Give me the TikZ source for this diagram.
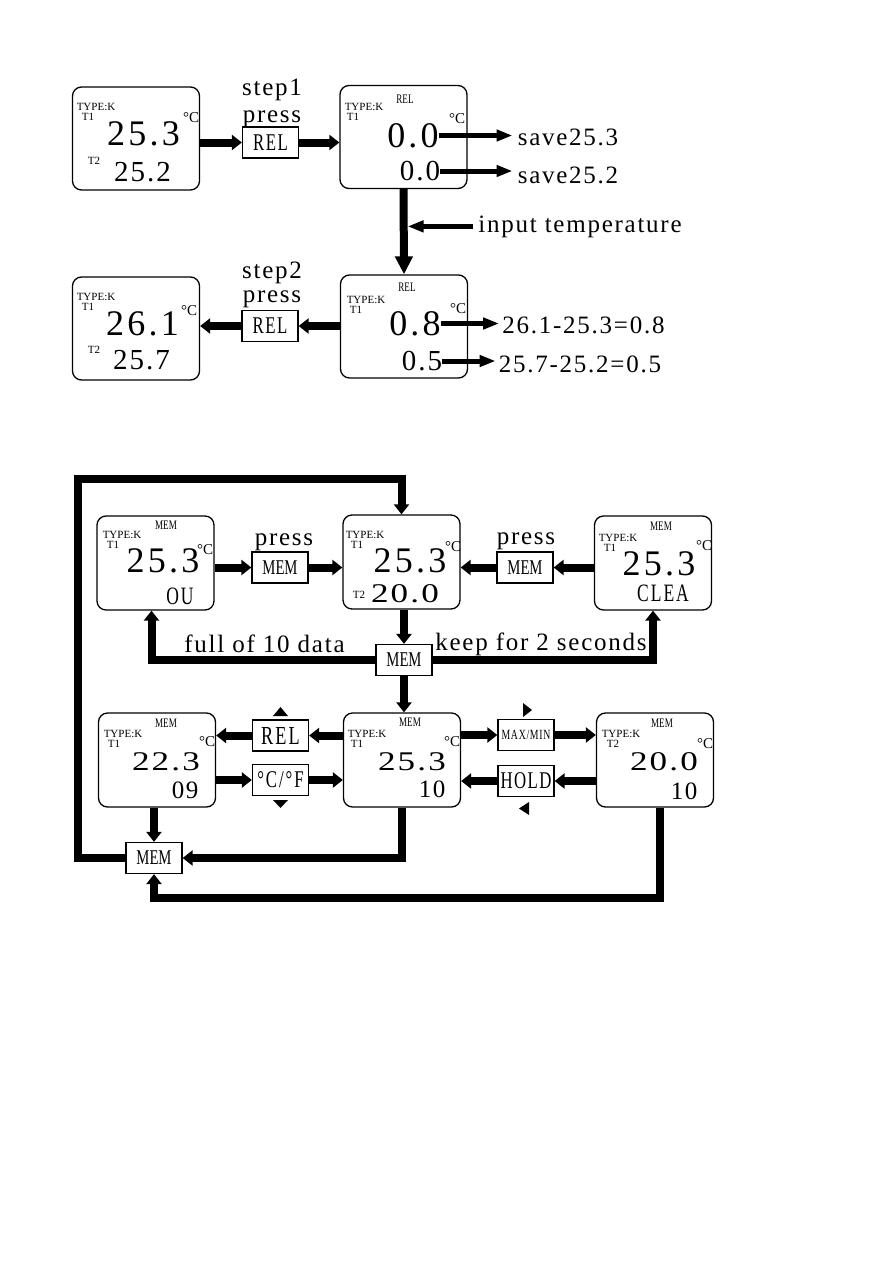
\documentclass[tikz,border=0pt]{standalone}
\usepackage{fontspec}
\setmainfont{Liberation Serif}
\newfontfamily\narrowfont{Liberation Serif}[FakeStretch=0.7]
\newfontfamily\widefont{Liberation Serif}[FakeStretch=1.3]
\usetikzlibrary{arrows.meta}

\begin{document}
\begin{tikzpicture}[x=1pt, y=-1pt,
    lcd/.style={draw, rounded corners=9pt, line width=1.3pt, minimum width=127pt, minimum height=103pt},
    lcds/.style={lcd, minimum width=117pt, minimum height=94pt},
    key/.style={draw, line width=1.3pt, minimum width=56pt, minimum height=31pt, inner sep=0pt,
                font=\narrowfont\fontsize{24}{24}\selectfont\addfontfeature{LetterSpace=6}},
    big/.style={inner sep=0pt, font=\fontsize{36}{36}\selectfont\addfontfeature{LetterSpace=9}},
    mid/.style={inner sep=0pt, font=\fontsize{29}{29}\selectfont\addfontfeature{LetterSpace=7}},
    wide/.style={inner sep=0pt, font=\widefont\fontsize{27}{27}\selectfont\addfontfeature{LetterSpace=8}},
    low/.style={inner sep=0pt, font=\fontsize{25}{25}\selectfont\addfontfeature{LetterSpace=6}},
    capt/.style={inner sep=0pt, font=\narrowfont\fontsize{25}{25}\selectfont\addfontfeature{LetterSpace=8}},
    tiny/.style={inner sep=0pt, font=\fontsize{11}{11}\selectfont},
    tinyn/.style={inner sep=0pt, font=\narrowfont\fontsize{13}{13}\selectfont},
    deg/.style={inner sep=0pt, font=\fontsize{15}{15}\selectfont},
    lab/.style={inner sep=0pt, anchor=base, font=\fontsize{25}{25}\selectfont\addfontfeature{LetterSpace=7}},
    flow/.style={line width=8pt, -{Triangle[length=10pt,width=15pt]}},
    down/.style={line width=8pt, -{Triangle[length=18pt,width=17pt]}},
    note/.style={line width=5pt, -{Triangle[length=16pt,width=11pt]}}]
  \useasboundingbox (0,0) rectangle (891,1266);
  % REL: first screen
  \node[lcd] (a1) at (136,138.5) {};
  \node[tiny] (a1ty) at (96,107) {TYPE:K}; \node[tiny] (a1t1) at (88,117) {T1};
  \node[big] (a1v) at (143.5,134) {25.3};  \node[deg] (a1c) at (191,118) {°C};
  \node[tiny] (a1t2) at (94,161) {T2};     \node[mid] (a1w) at (142.5,172) {25.2};
  \node[lab] (st1) at (272,95) {step1};    \node[lab] (pr1) at (272,122) {press};
  \node[key] (rel1) at (270.5,142.5) {REL};
  \node[lcd] (a2) at (403.5,137) {};
  \node[tinyn] (a2r) at (405,99) {REL};
  \node[tiny] (a2ty) at (364,107) {TYPE:K}; \node[tiny] (a2t1) at (353,117) {T1};
  \node[big] (a2v) at (413,135.5) {0.0};   \node[deg] (a2c) at (457,119) {°C};
  \node[mid] (a2w) at (420,171) {0.0};
  \node[lab] (sv1) at (568,145) {save25.3}; \node[lab] (sv2) at (568,183) {save25.2};
  \draw[flow] (a1.east |- rel1.west) -- (rel1.west);
  \draw[flow] (rel1.east) -- (rel1.east -| a2.west);
  \draw[note] (a2v.east) -- ([xshift=-5pt]a2v.east -| sv1.west);
  \draw[note] (a2w.east) -- ([xshift=-5pt]a2w.east -| sv2.west);
  % REL: second screen
  \node[lcd] (a3) at (404,326.5) {};
  \node[tinyn] (a3r) at (407,287) {REL};
  \node[tiny] (a3ty) at (366,300) {TYPE:K}; \node[tiny] (a3t1) at (356,310) {T1};
  \node[big] (a3v) at (415,323.5) {0.8};   \node[deg] (a3c) at (458,309) {°C};
  \node[mid] (a3w) at (422,361) {0.5};
  \node[lab] (df1) at (583.5,333) {26.1-25.3=0.8};
  \node[lab] (df2) at (580,372) {25.7-25.2=0.5};
  \node[lab] (inp) at (580,232) {input temperature};
  \draw[down] (a2.south) -- (a3.north);
  \draw[note, shorten <=5pt, shorten >=4pt] (inp.west) -- (inp.west -| a2.south);
  \draw[note] (a3v.east) -- ([xshift=-3pt]a3v.east -| df1.west);
  \draw[note] (a3w.east) -- ([xshift=-3pt]a3w.east -| df2.west);
  \node[key] (rel2) at (270,326) {REL};
  \node[lab] (st2) at (272,278) {step2};    \node[lab] (pr2) at (272,302) {press};
  \node[lcd] (a4) at (136,328.5) {};
  \node[tiny] (a4ty) at (96,297) {TYPE:K};  \node[tiny] (a4t1) at (88,307) {T1};
  \node[big] (a4v) at (142.5,323.5) {26.1}; \node[deg] (a4c) at (189,311) {°C};
  \node[tiny] (a4t2) at (94,350) {T2};      \node[mid] (a4w) at (141.5,360) {25.7};
  \draw[flow] (a3.west |- rel2.east) -- (rel2.east);
  \draw[flow] (rel2.west) -- (rel2.west -| a4.east);
  % MEM: upper row
  \node[lcds] (b1) at (155.5,563) {};
  \node[tinyn] (b1m) at (166,525) {MEM};
  \node[tiny] (b1ty) at (122,535) {TYPE:K}; \node[tiny] (b1t1) at (113,545) {T1};
  \node[big] (b1v) at (163,561) {25.3};    \node[deg] (b1c) at (205,550) {°C};
  \node[capt] (b1o) at (180,596) {OU};
  \node[lcds] (b2) at (401.5,562) {};
  \node[tiny] (b2ty) at (365,535) {TYPE:K}; \node[tiny] (b2t1) at (357,545) {T1};
  \node[big] (b2v) at (410,561) {25.3};    \node[deg] (b2c) at (453,547) {°C};
  \node[tiny] (b2t2) at (359,595) {T2};     \node[wide] (b2w) at (405,594) {20.0};
  \node[lcds] (b3) at (653,563) {};
  \node[tinyn] (b3m) at (661,526) {MEM};
  \node[tiny] (b3ty) at (618,538) {TYPE:K}; \node[tiny] (b3t1) at (610,548) {T1};
  \node[big] (b3v) at (659,564) {25.3};    \node[deg] (b3c) at (704,546) {°C};
  \node[capt] (b3o) at (663,593) {CLEA};
  \node[key, font=\narrowfont\fontsize{21}{21}\selectfont] (mem1) at (280,567.5) {MEM};
  \node[key, font=\narrowfont\fontsize{21}{21}\selectfont] (mem2) at (525,567.5) {MEM};
  \node[key, font=\narrowfont\fontsize{21}{21}\selectfont] (mem3) at (404,660) {MEM};
  \node[lab] (pr3) at (284,545) {press};    \node[lab] (pr4) at (526,544) {press};
  \node[lab] (full) at (264.5,652) {full of 10 data};
  \node[lab] (keep) at (541,650) {keep for 2 seconds};
  \draw[flow] (b1.east |- mem1.west) -- (mem1.west);
  \draw[flow] (mem1.east) -- (mem1.east -| b2.west);
  \draw[flow] (b3.west |- mem2.east) -- (mem2.east);
  \draw[flow] (mem2.west) -- (mem2.west -| b2.east);
  \draw[flow] (b2.south -| mem3.north) -- (mem3.north);
  \draw[flow] (mem3.west) -| ([xshift=-4pt]b1.south);
  \draw[flow] (mem3.east) -| (b3.south);
  % MEM: lower row
  \node[lcds] (c1) at (157,760) {};
  \node[tinyn] (c1m) at (166,723) {MEM};
  \node[tiny] (c1ty) at (123,734) {TYPE:K}; \node[tiny] (c1t1) at (114,744) {T1};
  \node[wide] (c1v) at (166,762) {22.3};   \node[deg] (c1c) at (207,742) {°C};
  \node[low] (c1n) at (185,790) {09};
  \node[lcds] (c2) at (402,760) {};
  \node[tinyn] (c2m) at (410,722) {MEM};
  \node[tiny] (c2ty) at (367,734) {TYPE:K}; \node[tiny] (c2t1) at (357,744) {T1};
  \node[wide] (c2v) at (412,762) {25.3};   \node[deg] (c2c) at (452,742) {°C};
  \node[low] (c2n) at (432,789) {10};
  \node[lcds] (c3) at (655,760) {};
  \node[tinyn] (c3m) at (662,723) {MEM};
  \node[tiny] (c3ty) at (621,734) {TYPE:K}; \node[tiny] (c3t2) at (613,744) {T2};
  \node[wide] (c3v) at (664,762) {20.0};   \node[deg] (c3c) at (705,744) {°C};
  \node[low] (c3n) at (684,791) {10};
  \node[key, font=\narrowfont\fontsize{26}{26}\selectfont\addfontfeature{LetterSpace=8}] (rel3) at (280.5,735.5) {REL};
  \node[key, font=\narrowfont\fontsize{24}{24}\selectfont\addfontfeature{LetterSpace=8}] (cf) at (280.5,780) {°C/°F};
  \node[key, font=\narrowfont\fontsize{14}{14}\selectfont\addfontfeature{LetterSpace=5}] (mm) at (526,735) {MAX/MIN};
  \node[key] (hold) at (526,781) {HOLD};
  \node[key, font=\narrowfont\fontsize{21}{21}\selectfont] (mem4) at (154,858) {MEM};
  \fill (273,716) -- (288,716) -- (280.5,707) -- cycle;
  \fill (273,800) -- (288,800) -- (280.5,808) -- cycle;
  \fill (523,703) -- (523,717) -- (532,710) -- cycle;
  \fill (529,802) -- (529,815) -- (519,808.5) -- cycle;
  \draw[flow] (mem3.south) -- (mem3.south |- c2.north);
  \draw[flow] (c2.west |- rel3.east) -- (rel3.east);
  \draw[flow] (rel3.west) -- (rel3.west -| c1.east);
  \draw[flow] (c1.east |- cf.west) -- (cf.west);
  \draw[flow] (cf.east) -- (cf.east -| c2.west);
  \draw[flow] (c2.east |- mm.west) -- (mm.west);
  \draw[flow] (mm.east) -- (mm.east -| c3.west);
  \draw[flow] (c3.west |- hold.east) -- (hold.east);
  \draw[flow] (hold.west) -- (hold.west -| c2.east);
  % MEM: back to the start
  \coordinate (loopc) at (78,479);
  \draw[flow] (c1.south -| mem4.north) -- (mem4.north);
  \draw[flow] (c2.south) |- (mem4.east);
  \draw[flow] ([xshift=5pt]c3.south) |- ([yshift=-24pt]mem4.south) -- (mem4.south);
  \draw[flow] (mem4.west) -| (loopc) -| (b2.north);
\end{tikzpicture}
\end{document}
